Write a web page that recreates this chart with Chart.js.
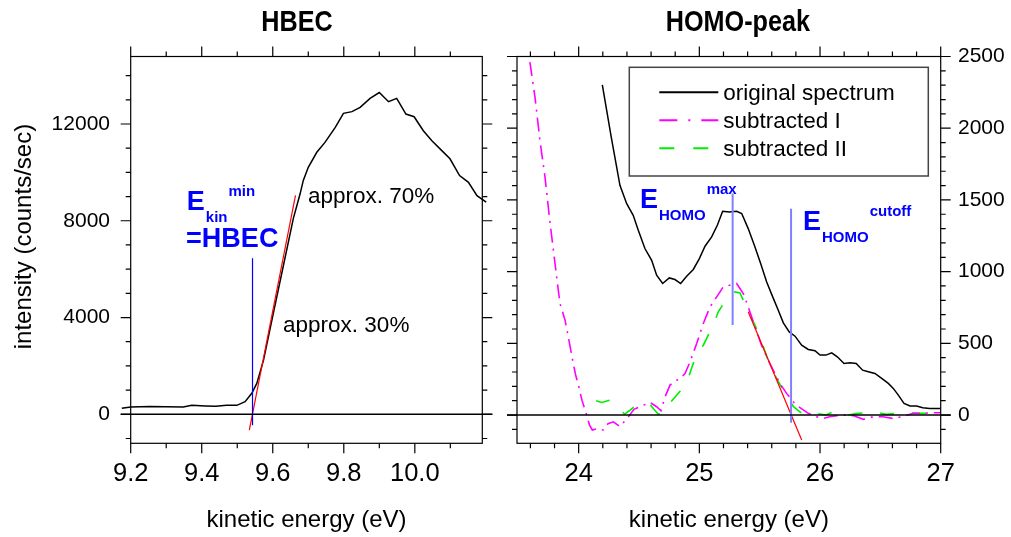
<!DOCTYPE html>
<html>
<head>
<meta charset="utf-8">
<script src="https://cdn.jsdelivr.net/npm/chart.js@4.4.1/dist/chart.umd.min.js"></script>
<style>
  html, body { margin: 0; padding: 0; background: #fff; }
  #wrap { position: relative; width: 1011px; height: 537px; }
  #hbec { position: absolute; left: 0; top: 0; }
  #homo { position: absolute; left: 500px; top: 0; }
</style>
</head>
<body>
<div id="wrap">
  <canvas id="hbec" width="500" height="537"></canvas>
  <canvas id="homo" width="511" height="537"></canvas>
</div>
<script>
// ---- HBEC panel ----
const hbecEnergy = [9.175, 9.200, 9.254, 9.300, 9.348, 9.372, 9.410, 9.440, 9.470, 9.499,
  9.522, 9.541, 9.555, 9.574, 9.602, 9.630, 9.658, 9.677, 9.686, 9.700, 9.724, 9.747,
  9.776, 9.799, 9.823, 9.846, 9.874, 9.900, 9.926, 9.949, 9.975, 9.998, 10.024, 10.048,
  10.076, 10.099, 10.126, 10.151, 10.175, 10.201];
const hbecCounts = [247, 300, 320, 310, 305, 370, 345, 335, 370, 370,
  520, 866, 1278, 2239, 4200, 6150, 8100, 9114, 9670, 10210, 10830, 11240,
  11860, 12440, 12510, 12690, 13060, 13300, 12920, 13060, 12410, 12300, 11720, 11310,
  10900, 10560, 9870, 9590, 9040, 8770];
const hbecFitEnergy = [9.534, 9.664];
const hbecFitCounts = [-650, 9050];
const hbecMarkEnergy = [9.543, 9.543];
const hbecMarkCounts = [-450, 6450];
const hbecXTicks = [9.2, 9.4, 9.6, 9.8, 10.0];
const hbecYTicks = [0, 4000, 8000, 12000];

// ---- HOMO panel ----
const homoEnergy = [24.196, 24.27, 24.342, 24.398, 24.452, 24.494, 24.549, 24.605, 24.646, 24.696,
  24.751, 24.798, 24.845, 24.895, 24.950, 25.000, 25.047, 25.102, 25.149, 25.193, 25.248,
  25.309, 25.351, 25.405, 25.461, 25.508, 25.558, 25.608, 25.654, 25.696, 25.745, 25.793,
  25.848, 25.903, 25.958, 26.000, 26.049, 26.097, 26.143, 26.199, 26.248, 26.300, 26.353,
  26.400, 26.455, 26.511, 26.566, 26.607, 26.649, 26.696, 26.746, 26.800, 26.851, 26.910, 27.000];
const homoCounts = [2303, 1938, 1602, 1474, 1393, 1288, 1161, 1079, 975, 917,
  956, 945, 917, 968, 1015, 1091, 1177, 1242, 1323, 1421, 1416,
  1421, 1405, 1300, 1172, 1056, 928, 824, 731, 643, 580, 550,
  487, 457, 448, 418, 418, 434, 406, 360, 364, 360, 313,
  302, 290, 256, 221, 186, 139, 81, 63, 63, 51, 46, 46];
const sub1Energy = [23.596, 23.638, 23.679, 23.721, 23.762, 23.804, 23.845, 23.887, 23.914, 23.955,
  23.975, 24.002, 24.027, 24.066, 24.090, 24.113, 24.152, 24.204, 24.243, 24.287, 24.342,
  24.409, 24.458, 24.508, 24.591, 24.646, 24.682, 24.715, 24.757, 24.798, 24.839, 24.881,
  24.922, 24.978, 25.033, 25.088, 25.144, 25.198, 25.251, 25.309, 25.364, 25.405, 25.515,
  25.584, 25.667, 25.723, 25.800, 25.903, 25.972, 26.027, 26.080, 26.140, 26.200, 26.280,
  26.359, 26.440, 26.520, 26.600, 26.680, 26.770, 26.850, 26.930, 27.000];
const sub1Counts = [2461, 2217, 1915, 1660, 1346, 1056, 778, 662, 545, 360,
  279, 195, 104, 0, -70, -104, -95, -104, -60, -47, -81,
  -15, 40, 58, 88, 58, 30, 125, 209, 239, 251, 290,
  369, 499, 639, 754, 824, 894, 905, 917, 847, 754, 487,
  360, 221, 151, 70, 12, -12, -23, -12, -5, 0, -5,
  -30, -12, -12, -23, -12, 12, 12, 16, 16];
const sub2Energy = [24.145, 24.190, 24.260, 24.380, 24.420, 24.460, 24.510, 24.590, 24.658, 24.700,
  24.730, 24.840, 24.908, 24.978, 25.033, 25.115, 25.157, 25.240, 25.295, 25.337, 25.405,
  25.461, 25.530, 25.570, 25.640, 25.710, 25.780, 25.848, 25.917, 25.959, 26.050, 26.110,
  26.200, 26.300, 26.440, 26.550, 26.700, 26.850, 27.000];
const sub2Counts = [100, 88, 104, 7, 30, 58, 49, 75, 7, 7,
  58, 165, 256, 430, 487, 627, 720, 829, 859, 852, 720,
  627, 476, 383, 256, 151, 58, 12, 28, 12, 0, 23,
  -5, 10, 23, 5, 16, 12, 16];
const homoFitEnergy = [25.405, 25.848];
const homoFitCounts = [720, -174];
const maxMarkEnergy = [25.276, 25.276];
const maxMarkCounts = [627, 1544];
const cutoffMarkEnergy = [25.76, 25.76];
const cutoffMarkCounts = [-53, 1439];
const homoXTicks = [24, 25, 26, 27];
const homoYTicks = [0, 500, 1000, 1500, 2000, 2500];

const pts = (xs, ys) => xs.map((x, i) => ({x: x, y: ys[i]}));

Chart.defaults.font.family = "'Liberation Sans', Arial, sans-serif";
Chart.defaults.color = '#000';

// frame, zero line and tick marks drawn from the scales
const framePlugin = {
  id: 'frame',
  afterDatasetsDraw(chart, args, o) {
    const {ctx, chartArea: a, scales} = chart;
    const x = scales.x, y = scales.y;
    ctx.save();
    ctx.strokeStyle = '#000';
    ctx.lineWidth = 1.2;
    ctx.strokeRect(a.left, a.top, a.right - a.left, a.bottom - a.top);
    const y0 = y.getPixelForValue(0);
    ctx.lineWidth = 1.5;
    ctx.beginPath(); ctx.moveTo(a.left - 10, y0); ctx.lineTo(a.right + 10, y0); ctx.stroke();
    ctx.lineWidth = 1.2;
    const isMajor = (v, m) => Math.abs(v / m - Math.round(v / m)) < 1e-6;
    ctx.beginPath();
    for (let i = Math.ceil(x.min / o.xMinor - 1e-6); i * o.xMinor <= x.max + 1e-9; i++) {
      const v = i * o.xMinor, p = x.getPixelForValue(v), l = isMajor(v, o.xMajor) ? 10 : 5;
      ctx.moveTo(p, a.bottom); ctx.lineTo(p, a.bottom + l);
      ctx.moveTo(p, a.top); ctx.lineTo(p, a.top - l);
    }
    for (let i = Math.ceil(y.min / o.yMinor - 1e-6); i * o.yMinor <= y.max + 1e-9; i++) {
      const v = i * o.yMinor, p = y.getPixelForValue(v), l = isMajor(v, o.yMajor) ? 10 : 5;
      ctx.moveTo(a.left, p); ctx.lineTo(a.left - l, p);
      ctx.moveTo(a.right, p); ctx.lineTo(a.right + l, p);
    }
    ctx.stroke();
    // panel title, slightly condensed like the original
    ctx.fillStyle = '#000';
    ctx.font = "bold 30px 'Liberation Sans', Arial, sans-serif";
    ctx.textAlign = 'center';
    ctx.textBaseline = 'alphabetic';
    ctx.translate((a.left + a.right) / 2 + o.titleDx, 31);
    ctx.scale(0.84, 1);
    ctx.fillText(o.title, 0, 0);
    ctx.restore();
  }
};

// text labels positioned in data coordinates
const notesPlugin = {
  id: 'notes',
  afterDatasetsDraw(chart, args, o) {
    const {ctx, scales: {x, y}} = chart;
    ctx.save();
    ctx.textAlign = 'left';
    ctx.textBaseline = 'alphabetic';
    (o.items || []).forEach(it => {
      const px = x.getPixelForValue(it.x), py = y.getPixelForValue(it.y);
      ctx.fillStyle = it.color || '#000';
      ctx.font = it.font;
      ctx.fillText(it.text, px, py);
      if (it.sub) {
        const w = ctx.measureText(it.text).width;
        ctx.font = "bold 15px 'Liberation Sans', Arial, sans-serif";
        ctx.fillText(it.sub, px + w + 1, py + 11.5);
        const ws = ctx.measureText(it.sub).width;
        ctx.fillText(it.sup, px + w + ws + 2, py - 14.5);
      }
    });
    ctx.restore();
  }
};

// boxed legend inside the plot area
const boxLegendPlugin = {
  id: 'boxLegend',
  afterDatasetsDraw(chart, args, o) {
    if (!o.show) return;
    const {ctx, chartArea: a} = chart;
    const bx = a.left + o.dx, by = a.top + o.dy;
    ctx.save();
    ctx.strokeStyle = '#444';
    ctx.lineWidth = 1.5;
    ctx.fillStyle = '#fff';
    ctx.fillRect(bx, by, o.w, o.h);
    ctx.strokeRect(bx, by, o.w, o.h);
    ctx.font = "22.5px 'Liberation Sans', Arial, sans-serif";
    ctx.textBaseline = 'middle';
    ctx.textAlign = 'left';
    chart.data.datasets.filter(d => d.legendDash).forEach((d, i) => {
      const ly = by + 25 + i * 28;
      ctx.strokeStyle = d.borderColor;
      ctx.lineWidth = 2;
      ctx.setLineDash(d.legendDash);
      ctx.beginPath(); ctx.moveTo(bx + 30, ly); ctx.lineTo(bx + 89, ly); ctx.stroke();
      ctx.setLineDash([]);
      ctx.fillStyle = '#000';
      ctx.fillText(d.label, bx + 94, ly + 1);
    });
    ctx.restore();
  }
};

const fixedTicks = arr => scale => { scale.ticks = arr.map(v => ({value: v})); };

// ---------- left chart ----------
new Chart(document.getElementById('hbec'), {
  type: 'line',
  data: {
    datasets: [
      {label: 'HBEC', data: pts(hbecMarkEnergy, hbecMarkCounts), borderColor: '#0000ff', borderWidth: 1.2},
      {label: 'fit', data: pts(hbecFitEnergy, hbecFitCounts), borderColor: '#ff0000', borderWidth: 1.2, clip: false},
      {label: 'spectrum', data: pts(hbecEnergy, hbecCounts), borderColor: '#000', borderWidth: 1.5, clip: false},
    ],
  },
  options: {
    responsive: false,
    animation: false,
    parsing: false,
    elements: {point: {radius: 0}, line: {tension: 0}},
    layout: {padding: {left: 0, top: 56.5, right: 17.7, bottom: 0}},
    plugins: {
      legend: {display: false},
      tooltip: {enabled: false},
      frame: {xMinor: 0.1, xMajor: 0.2, yMinor: 1000, yMajor: 4000, title: 'HBEC', titleDx: -9.5},
      boxLegend: {show: false},
      notes: {
        items: [
          {text: 'E', sub: 'kin', sup: 'min', x: 9.358, y: 8425, color: '#0000ff',
            font: "bold 27px 'Liberation Sans', Arial, sans-serif"},
          {text: '=HBEC', x: 9.356, y: 6900, color: '#0000ff',
            font: "bold 27px 'Liberation Sans', Arial, sans-serif"},
          {text: 'approx. 70%', x: 9.699, y: 8735, font: "22.5px 'Liberation Sans', Arial, sans-serif"},
          {text: 'approx. 30%', x: 9.629, y: 3394, font: "22.5px 'Liberation Sans', Arial, sans-serif"},
        ],
      },
    },
    scales: {
      x: {
        type: 'linear', position: 'bottom', min: 9.2, max: 10.19,
        grid: {display: false, drawTicks: false}, border: {display: false},
        afterBuildTicks: fixedTicks(hbecXTicks),
        afterFit: s => { s.height = 93.7; },
        ticks: {font: {size: 25.5}, padding: 15.4, maxRotation: 0, callback: v => v.toFixed(1)},
        title: {display: true, text: 'kinetic energy (eV)', font: {size: 24}, padding: {top: 0, bottom: 2}},
      },
      y: {
        type: 'linear', position: 'left', min: -1199, max: 14790,
        grid: {display: false, drawTicks: false}, border: {display: false},
        afterBuildTicks: fixedTicks(hbecYTicks),
        afterFit: s => { s.width = 130.7; },
        ticks: {font: {size: 21}, padding: 20.7, callback: v => String(v)},
        title: {display: true, text: '    intensity (counts/sec)', font: {size: 24}, padding: {top: 9.6, bottom: 0}},
      },
    },
  },
  plugins: [framePlugin, notesPlugin, boxLegendPlugin],
});

// ---------- right chart ----------
new Chart(document.getElementById('homo'), {
  type: 'line',
  data: {
    datasets: [
      {label: 'max', data: pts(maxMarkEnergy, maxMarkCounts), borderColor: '#8080ff', borderWidth: 2},
      {label: 'cutoff', data: pts(cutoffMarkEnergy, cutoffMarkCounts), borderColor: '#8080ff', borderWidth: 2},
      {label: 'fit', data: pts(homoFitEnergy, homoFitCounts), borderColor: '#ff0000', borderWidth: 1.2, clip: false},
      {label: 'original spectrum', data: pts(homoEnergy, homoCounts), borderColor: '#000', borderWidth: 1.5,
        legendDash: []},
      {label: 'subtracted I', data: pts(sub1Energy, sub1Counts), borderColor: '#ff00ff', borderWidth: 1.6,
        borderDash: [14, 6, 2, 6], legendDash: [18, 11, 2, 11]},
      {label: 'subtracted II', data: pts(sub2Energy, sub2Counts), borderColor: '#00ee00', borderWidth: 1.6,
        borderDash: [14, 18], legendDash: [15, 19]},
    ],
  },
  options: {
    responsive: false,
    animation: false,
    parsing: false,
    elements: {point: {radius: 0}, line: {tension: 0}},
    layout: {padding: {left: 17, top: 56.5, right: 0, bottom: 0}},
    plugins: {
      legend: {display: false},
      tooltip: {enabled: false},
      frame: {xMinor: 0.2, xMajor: 1, yMinor: 100, yMajor: 500, title: 'HOMO-peak', titleDx: 9},
      boxLegend: {show: true, dx: 112.3, dy: 10.8, w: 299, h: 108.7},
      notes: {
        items: [
          {text: 'E', sub: 'HOMO', sup: 'max', x: 24.508, y: 1442, color: '#0000ff',
            font: "bold 27px 'Liberation Sans', Arial, sans-serif"},
          {text: 'E', sub: 'HOMO', sup: 'cutoff', x: 25.859, y: 1288, color: '#0000ff',
            font: "bold 27px 'Liberation Sans', Arial, sans-serif"},
        ],
      },
    },
    scales: {
      x: {
        type: 'linear', position: 'bottom', min: 23.489, max: 27,
        grid: {display: false, drawTicks: false}, border: {display: false},
        afterBuildTicks: fixedTicks(homoXTicks),
        afterFit: s => { s.height = 93.7; },
        ticks: {font: {size: 25.5}, padding: 15.4, maxRotation: 0, callback: v => String(v)},
        title: {display: true, text: 'kinetic energy (eV)', font: {size: 24}, padding: {top: 0, bottom: 2}},
      },
      y: {
        type: 'linear', position: 'right', min: -197, max: 2500,
        grid: {display: false, drawTicks: false}, border: {display: false},
        afterBuildTicks: fixedTicks(homoYTicks),
        afterFit: s => { s.width = 70.3; },
        ticks: {font: {size: 21}, padding: 17.3, callback: v => String(v)},
      },
    },
  },
  plugins: [framePlugin, notesPlugin, boxLegendPlugin],
});
</script>
</body>
</html>
